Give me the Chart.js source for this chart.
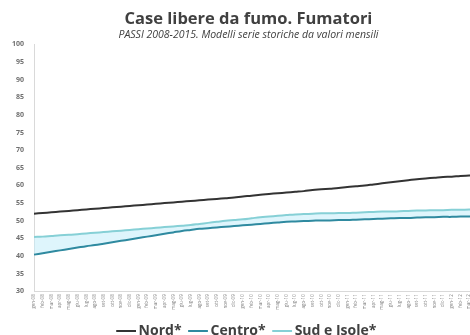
<!DOCTYPE html>
<html>
<head>
<meta charset="utf-8">
<script src="https://cdn.jsdelivr.net/npm/chart.js@4/dist/chart.umd.min.js"></script>
<style>
  html, body { margin: 0; padding: 0; background: #fff; overflow: hidden; }
  #wrap { position: absolute; left: 0; top: 0; width: 495px; height: 335px; }
</style>
</head>
<body>
<div id="wrap"><canvas id="chart"></canvas></div>
<script>
// monthly axis, from gen-08
const mesi = ['gen', 'feb', 'mar', 'apr', 'mag', 'giu', 'lug', 'ago', 'set', 'ott', 'nov', 'dic'];
const anni = ['08', '09', '10', '11', '12'];
const nMesi = 53;

// smoothed series (% smokers with smoke-free homes)
const nord = [
  52.0, 52.2, 52.4, 52.6, 52.8, 53.0, 53.2, 53.4, 53.6, 53.8,
  54.0, 54.2, 54.4, 54.6, 54.8, 55.0, 55.2, 55.4, 55.6, 55.8,
  56.0, 56.2, 56.4, 56.6, 56.9, 57.1, 57.4, 57.6, 57.8, 58.0,
  58.2, 58.4, 58.7, 58.9, 59.1, 59.3, 59.6, 59.8, 60.0, 60.3,
  60.6, 60.9, 61.2, 61.5, 61.8, 62.0, 62.2, 62.4, 62.5, 62.7,
  62.8, 62.9, 63.0
];
const centro = [
  40.4, 40.8, 41.2, 41.6, 42.0, 42.4, 42.8, 43.1, 43.5, 43.9,
  44.3, 44.7, 45.1, 45.5, 45.9, 46.3, 46.7, 47.1, 47.4, 47.7,
  47.9, 48.1, 48.3, 48.5, 48.7, 48.9, 49.1, 49.3, 49.5, 49.7,
  49.8, 49.9, 50.0, 50.1, 50.1, 50.2, 50.2, 50.3, 50.4, 50.5,
  50.6, 50.7, 50.8, 50.8, 50.9, 51.0, 51.0, 51.1, 51.1, 51.2,
  51.2, 51.3, 51.3
];
const sudIsole = [
  45.4, 45.5, 45.7, 45.9, 46.0, 46.2, 46.4, 46.6, 46.8, 47.0,
  47.2, 47.4, 47.6, 47.8, 48.0, 48.2, 48.4, 48.6, 48.8, 49.1,
  49.4, 49.7, 50.0, 50.2, 50.4, 50.7, 51.0, 51.2, 51.4, 51.6,
  51.8, 51.9, 52.0, 52.1, 52.1, 52.2, 52.2, 52.3, 52.4, 52.5,
  52.6, 52.6, 52.7, 52.8, 52.9, 52.9, 53.0, 53.0, 53.1, 53.1,
  53.2, 53.2, 53.3
];

let labels = [];
for (let i = 0; i < nMesi; i++) {
  labels.push(mesi[i % 12] + '-' + anni[Math.floor(i / 12)]);
}

const testo = '#404040';

new Chart(document.getElementById('chart'), {
  type: 'line',
  data: {
    labels: labels,
    datasets: [
      {
        label: 'Nord*',
        data: nord,
        borderColor: '#333333',
        backgroundColor: '#333333',
        borderWidth: 2,
        pointRadius: 0,
        tension: 0.4,
        fill: false
      },
      {
        label: 'Centro*',
        data: centro,
        borderColor: '#2f8aa0',
        backgroundColor: '#2f8aa0',
        borderWidth: 2,
        pointRadius: 0,
        tension: 0.4,
        fill: false
      },
      {
        label: 'Sud e Isole*',
        data: sudIsole,
        borderColor: '#86d0d6',
        backgroundColor: 'rgba(195, 236, 250, 0.55)',
        borderWidth: 2,
        pointRadius: 0,
        tension: 0.4,
        fill: { target: 1 }
      }
    ]
  },
  options: {
    responsive: true,
    maintainAspectRatio: false,
    animation: false,
    layout: { padding: { left: 2, right: 0, top: 6, bottom: -13 } },
    plugins: {
      title: {
        display: true,
        text: 'Case libere da fumo. Fumatori',
        color: testo,
        font: { family: 'Open Sans', size: 16.5, weight: 'bold' },
        padding: { top: 3, bottom: 0 }
      },
      subtitle: {
        display: true,
        text: 'PASSI 2008-2015. Modelli serie storiche da valori mensili',
        color: testo,
        font: { family: 'Open Sans', size: 10.5, style: 'italic' },
        padding: { bottom: 3 }
      },
      legend: {
        position: 'bottom',
        labels: {
          usePointStyle: true,
          pointStyle: 'line',
          boxWidth: 11,
          padding: 11,
          color: testo,
          font: { family: 'Open Sans', size: 14, weight: 'bold' }
        }
      },
      tooltip: { enabled: false }
    },
    scales: {
      x: {
        grid: { display: false, drawTicks: false },
        border: { color: '#d9d9d9' },
        ticks: {
          autoSkip: false,
          maxRotation: 90,
          minRotation: 90,
          padding: 3,
          color: '#808080',
          font: { family: 'Open Sans', size: 4.5 }
        }
      },
      y: {
        min: 30,
        max: 100,
        grid: { display: false, drawTicks: false },
        border: { color: '#d9d9d9' },
        ticks: {
          stepSize: 5,
          padding: 10,
          color: '#707070',
          font: { family: 'Open Sans', size: 7, weight: 'bold' }
        }
      }
    }
  }
});
</script>
</body>
</html>
